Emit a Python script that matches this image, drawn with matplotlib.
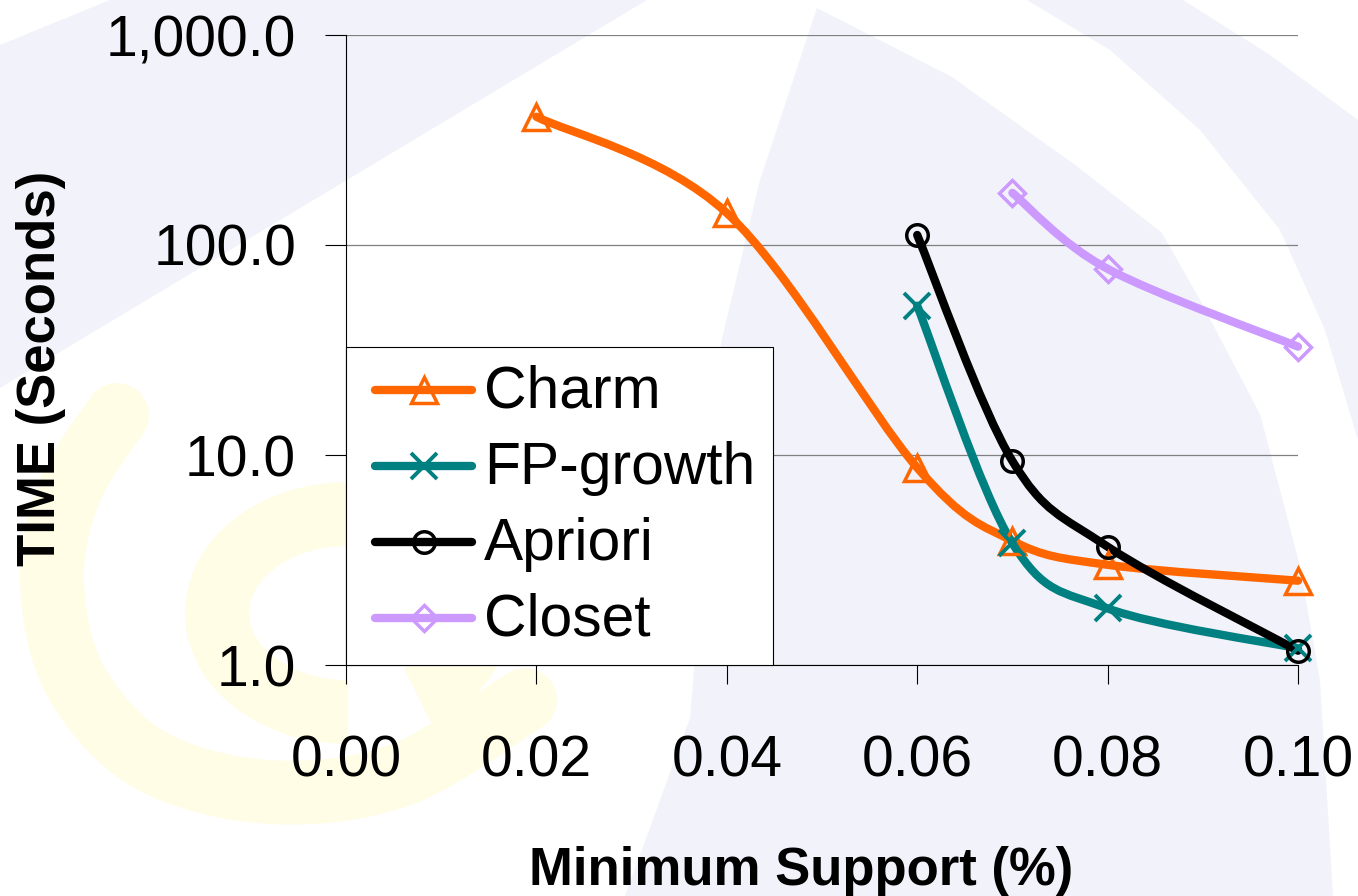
import numpy as np
import matplotlib
matplotlib.use('Agg')
import matplotlib.pyplot as plt
from matplotlib.path import Path
from matplotlib.patches import PathPatch, Polygon, Arc
from matplotlib.lines import Line2D
from matplotlib.legend_handler import HandlerLine2D
from matplotlib.ticker import FuncFormatter, FixedLocator, NullLocator
from matplotlib.transforms import Affine2D

plt.rcParams['font.family'] = ['Liberation Sans', 'DejaVu Sans']

# ---------------- data ----------------
series_names = ['Charm', 'FP-growth', 'Apriori', 'Closet']
charm_x = [0.02, 0.04, 0.06, 0.07, 0.08, 0.10]
charm_y = [408.0, 142.0, 8.7, 3.9, 3.0, 2.52]
fp_x = [0.06, 0.07, 0.08, 0.10]
fp_y = [51.4, 3.8, 1.86, 1.2]
apriori_x = [0.06, 0.07, 0.08, 0.10]
apriori_y = [111.6, 9.36, 3.66, 1.17]
closet_x = [0.07, 0.08, 0.10]
closet_y = [177.0, 77.0, 32.8]
x_ticks = [0.00, 0.02, 0.04, 0.06, 0.08, 0.10]
y_ticks = [1.0, 10.0, 100.0, 1000.0]
x_label = 'Minimum Support (%)'
y_label = 'TIME (Seconds)'

colors = ['#FF6600', '#008080', '#000000', '#CC99FF']
markers = ['^', 'x', 'o', 'D']
msizes = [18.5, 19, 15.5, 13.5]
mews = [2.5, 2.8, 2.5, 2.5]

W, H = 1358, 896
fig = plt.figure(figsize=(W / 100, H / 100), dpi=100)
fig.patch.set_facecolor('white')

# ---------------- background decoration (pixel coords, y down) ----------------
pix = Affine2D().scale(1 / W, -1 / H).translate(0, 1) + fig.transFigure
lav = '#F2F2FA'
yel = '#FFFDE6'
band1 = [(0, 45), (110, 0), (647, 0), (0, 388)]
wedge = [(817, 8), (760, 180), (721, 343), (705, 540), (690, 718), (625, 896),
         (1333, 896), (1320, 680), (1300, 566), (1260, 414), (1200, 300),
         (1162, 233), (1078, 167), (952, 77)]
outer = [(1027, 0), (1183, 0), (1270, 55), (1358, 120), (1358, 440),
         (1325, 330), (1280, 230), (1200, 130), (1110, 50)]
for poly in (band1, wedge, outer):
    fig.add_artist(Polygon(poly, closed=True, facecolor=lav, edgecolor='none',
                           transform=pix, zorder=-5))


def catmull(P):
    P = np.asarray(P, float)
    n = len(P)
    verts = [P[0]]
    codes = [Path.MOVETO]
    for i in range(n - 1):
        p0 = P[i - 1] if i > 0 else P[i]
        p1, p2 = P[i], P[i + 1]
        p3 = P[i + 2] if i + 2 < n else P[i + 1]
        verts += [p1 + (p2 - p0) / 6, p2 - (p3 - p1) / 6, p2]
        codes += [Path.CURVE4] * 3
    return np.array(verts), codes


arm = [(117, 415), (70, 490), (52, 580), (75, 680), (150, 760), (270, 792),
       (400, 775), (525, 700)]
v, c = catmull(arm)
fig.add_artist(PathPatch(Path(v, c), facecolor='none', edgecolor=yel, lw=46,
                         capstyle='round', joinstyle='round', transform=pix,
                         zorder=-4))
fig.add_artist(Arc((348, 613), 262, 198, theta1=-270, theta2=50, edgecolor=yel,
                   lw=46, transform=pix, zorder=-4))

# ---------------- axes ----------------
ax = fig.add_axes([346 / W, (H - 665) / H, 952 / W, 630 / H])
ax.set_facecolor('none')
ax.set_yscale('log')
ax.set_xlim(0.0, 0.10)
ax.set_ylim(1.0, 1000.0)
ax.xaxis.set_major_locator(FixedLocator(x_ticks))
ax.yaxis.set_major_locator(FixedLocator(y_ticks))
ax.yaxis.set_minor_locator(NullLocator())
ax.xaxis.set_minor_locator(NullLocator())
ax.xaxis.set_major_formatter(FuncFormatter(lambda v, p: f'{v:.2f}'))
ax.yaxis.set_major_formatter(FuncFormatter(lambda v, p: f'{v:,.1f}'))
ax.tick_params(axis='y', direction='out', length=15, width=0.8, pad=21,
               labelsize=41, colors='black')
ax.tick_params(axis='x', direction='out', length=14, width=0.8, pad=36,
               labelsize=41, colors='black')
for s in ('top', 'right'):
    ax.spines[s].set_visible(False)
for s in ('left', 'bottom'):
    ax.spines[s].set_linewidth(0.8)
    ax.spines[s].set_zorder(1.5)
ax.yaxis.grid(True, color='#808080', lw=0.9)
ax.set_axisbelow(True)


def smooth_path(xs, ys):
    P = np.column_stack([np.asarray(xs, float), np.log10(np.asarray(ys, float))])
    v, c = catmull(P)
    v[:, 1] = 10 ** v[:, 1]
    return Path(v, c)


all_x = [charm_x, fp_x, apriori_x, closet_x]
all_y = [charm_y, fp_y, apriori_y, closet_y]
handles = []
for xs, ys, col, mk, ms, mw, name in zip(all_x, all_y, colors, markers, msizes,
                                          mews, series_names):
    patch = PathPatch(smooth_path(xs, ys), facecolor='none', edgecolor=col,
                      lw=6, capstyle='round', joinstyle='round',
                      transform=ax.transData, zorder=2, clip_on=False)
    ax.add_patch(patch)
    ax.plot(xs, ys, ls='none', marker=mk, ms=ms, mfc='none', mec=col, mew=mw,
            zorder=3, clip_on=False)
    handles.append(Line2D([], [], color=col, lw=6, solid_capstyle='round',
                          marker=mk, ms=ms, mfc='none', mec=col, mew=mw))


class ShiftedHandler(HandlerLine2D):
    """Line handle shifted right / down inside its legend slot."""

    def __init__(self, dx=0.0, dy=0.0, **kw):
        super().__init__(**kw)
        self.dx = dx
        self.dy = dy

    def create_artists(self, legend, orig_handle, xdescent, ydescent, width,
                       height, fontsize, trans):
        sx = self.dx * fontsize
        sy = self.dy * fontsize
        return super().create_artists(legend, orig_handle, xdescent - sx,
                                      ydescent + sy, width - sx, height,
                                      fontsize, trans)


hmap = {h: ShiftedHandler(dx=0.195, dy=0.1) for h in handles}
leg = ax.legend(handles, series_names, loc='lower left', bbox_to_anchor=(0, 0),
                borderaxespad=0, fontsize=42.3, frameon=True, fancybox=False,
                edgecolor='black', facecolor='white', framealpha=1,
                handlelength=1.85, handletextpad=0.2, labelspacing=0.355,
                borderpad=0.3, handler_map=hmap)
leg.get_frame().set_linewidth(0.8)
leg.set_zorder(5)

fig.text(801 / W, 1 - 885 / H, x_label, ha='center', va='baseline',
         fontsize=38, fontweight='bold')
fig.text(55 / W, 1 - 368 / H, y_label, rotation=90, rotation_mode='anchor',
         ha='center', va='baseline', fontsize=38, fontweight='bold')

fig.savefig('out.png', dpi=100, facecolor='white')
